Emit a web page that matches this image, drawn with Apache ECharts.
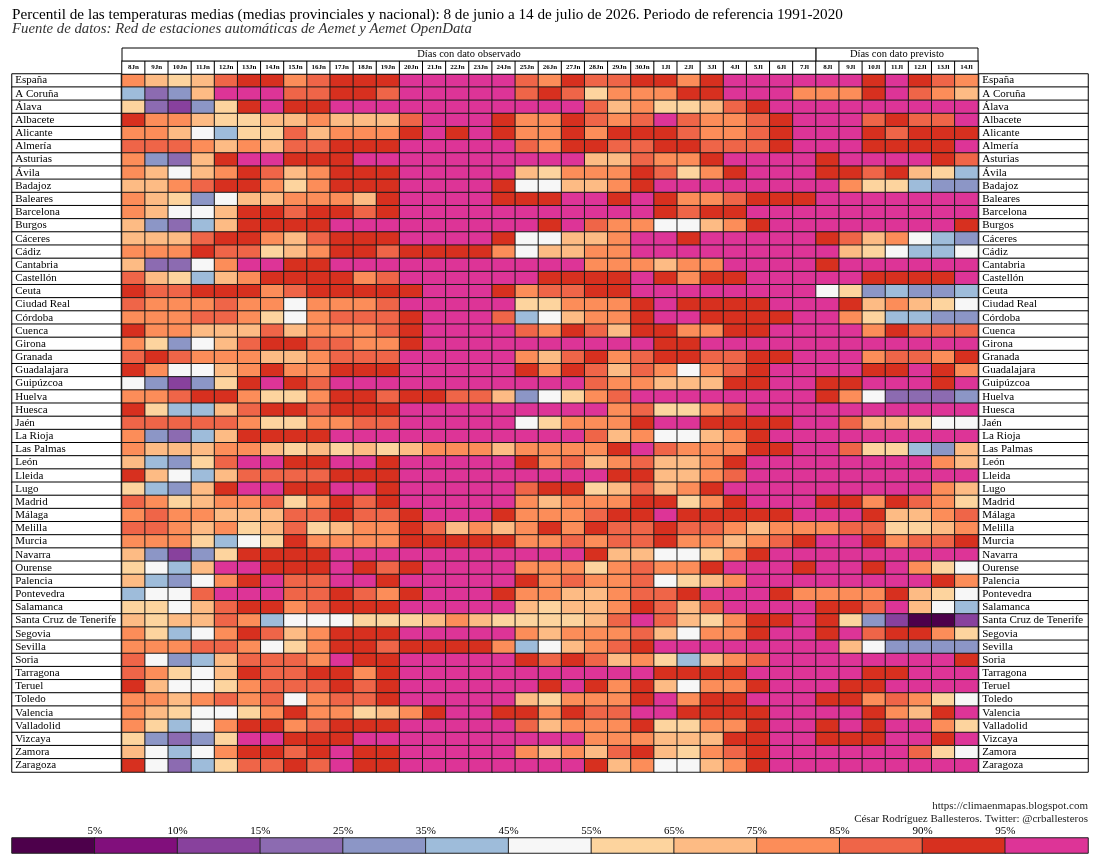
<!DOCTYPE html>
<html><head><meta charset="utf-8">
<script src="https://cdn.jsdelivr.net/npm/echarts/dist/echarts.min.js"></script>
<style>html,body{margin:0;padding:0;background:#fff}#c{width:1099px;height:860px}</style>
</head><body><div id="c"></div>
<script>
// ---- DATA ----
const dias = ['8Jn','9Jn','10Jn','11Jn','12Jn','13Jn','14Jn','15Jn','16Jn','17Jn','18Jn','19Jn','20Jn','21Jn','22Jn','23Jn','24Jn','25Jn','26Jn','27Jn','28Jn','29Jn','30Jn',
  '1Jl','2Jl','3Jl','4Jl','5Jl','6Jl','7Jl','8Jl','9Jl','10Jl','11Jl','12Jl','13Jl','14Jl'];
const gruposDias = [['Días con dato observado', 0, 29], ['Días con dato previsto', 30, 36]];
const provincias = ['España','A Coruña','Álava','Albacete','Alicante','Almería','Asturias','Ávila','Badajoz','Baleares','Barcelona','Burgos','Cáceres','Cádiz','Cantabria','Castellón','Ceuta','Ciudad Real','Córdoba','Cuenca','Girona','Granada','Guadalajara','Guipúzcoa','Huelva','Huesca','Jaén','La Rioja','Las Palmas','León','Lleida','Lugo','Madrid','Málaga','Melilla','Murcia','Navarra','Ourense','Palencia','Pontevedra','Salamanca','Santa Cruz de Tenerife','Segovia','Sevilla','Soria','Tarragona','Teruel','Toledo','Valencia','Valladolid','Vizcaya','Zamora','Zaragoza'];
// percentile class per province (rows) and day (columns): 0 = <5% ... 12 = >95%
const clases = [
 [9,8,7,8,10,11,11,9,10,11,11,11,12, 12,12,12,12,10,9,11,10,10,11,11,9,11, 12,12,12,12, 12,12,11,12,11,10,9],
 [5,3,4,8,12,12,12,10,10,11,11,10,12, 12,12,12,12,10,11,10,7,9,9,9,11,11, 12,12,12,9, 9,9,11,12,10,9,8],
 [7,3,2,4,7,11,12,11,11,12,12,12,12, 12,12,12,12,12,12,12,10,8,9,7,7,8, 10,11,12,12, 12,12,12,12,12,12,12],
 [11,9,9,8,7,7,8,8,9,8,8,8,10, 12,12,12,11,9,9,11,10,9,10,12,10,9, 9,10,11,12, 12,12,10,11,10,10,12],
 [9,9,8,6,5,7,7,10,8,9,9,9,11, 12,11,12,11,9,9,11,9,11,11,11,10,9, 9,10,11,12, 12,12,11,10,11,11,11],
 [10,10,10,9,8,9,8,10,10,11,11,11,12, 12,12,12,12,10,9,11,11,10,10,11,11,10, 10,10,11,12, 12,12,11,11,11,11,12],
 [9,4,3,8,11,12,12,11,11,11,12,12,12, 12,12,12,12,12,12,12,8,8,10,9,9,11, 12,12,12,12, 11,12,12,12,12,11,10],
 [9,8,6,8,9,11,10,8,9,11,11,11,12, 12,12,12,12,8,7,9,9,9,11,10,7,9, 11,12,12,12, 11,11,10,11,8,7,5],
 [8,8,9,10,11,11,9,7,9,11,11,11,12, 12,12,12,11,6,6,8,8,9,11,12,12,12, 12,12,12,12, 12,9,7,7,5,4,4],
 [9,8,7,4,6,8,8,9,9,9,8,11,12, 12,12,12,11,11,11,12,12,11,12,11,9,9, 10,11,11,11, 12,12,12,12,12,12,12],
 [9,8,6,6,8,11,11,10,11,11,10,11,12, 12,12,12,12,12,12,12,12,12,12,11,10,11, 11,12,12,12, 12,12,12,12,12,12,12],
 [8,4,3,5,8,11,11,11,11,12,12,12,12, 12,12,12,12,12,11,12,10,9,9,6,6,8, 9,11,12,12, 12,12,12,12,12,12,11],
 [8,8,8,10,11,11,9,8,10,11,11,11,12, 12,12,12,11,6,6,8,8,9,12,12,11,12, 12,12,12,12, 11,10,8,9,6,5,4],
 [9,9,9,11,10,10,7,8,9,11,11,10,11, 11,11,11,9,6,8,8,9,9,12,12,12,12, 12,12,12,12, 12,8,7,6,5,5,6],
 [8,3,3,6,9,12,12,11,11,12,12,12,12, 12,12,12,12,12,12,12,9,9,9,8,9,9, 12,12,12,12, 11,12,12,12,12,12,12],
 [10,8,7,5,8,9,11,11,11,11,9,10,12, 12,12,12,12,12,11,11,11,11,12,11,9,11, 11,12,12,12, 12,12,11,11,11,11,12],
 [11,10,10,11,11,11,9,10,11,11,11,11,11, 12,12,12,11,9,10,10,11,11,12,12,12,12, 12,12,12,12, 6,7,4,5,4,4,5],
 [10,9,9,9,10,9,9,6,9,9,9,10,12, 12,12,12,12,7,7,9,9,9,11,12,11,11, 11,11,12,12, 12,11,8,9,8,7,6],
 [9,9,9,10,10,9,7,6,9,10,10,10,11, 12,12,12,10,5,6,8,9,9,11,12,12,11, 11,11,11,12, 12,9,7,5,5,4,4],
 [11,9,9,8,8,8,10,8,9,9,9,10,11, 12,12,12,12,10,9,11,10,8,11,11,9,9, 11,11,12,12, 12,12,9,11,10,10,10],
 [9,7,4,6,8,10,11,11,10,10,9,9,11, 12,12,12,12,12,12,12,12,12,12,11,11,12, 12,12,12,12, 12,12,12,12,12,12,12],
 [10,11,10,9,9,9,8,8,9,10,10,10,12, 12,12,12,12,9,8,10,11,9,10,11,11,10, 10,11,11,12, 12,12,9,10,10,9,11],
 [11,9,6,6,8,9,11,9,9,11,11,11,12, 12,12,12,12,11,9,11,10,8,10,9,6,9, 10,11,12,12, 12,12,11,11,12,11,9],
 [6,4,2,4,7,11,12,11,10,12,12,12,12, 12,12,12,12,12,12,12,10,9,9,8,8,8, 11,11,12,12, 11,11,12,12,12,11,12],
 [9,9,10,11,11,9,7,7,9,11,11,10,11, 11,10,10,8,4,6,7,9,10,12,12,12,12, 12,12,12,12, 11,9,6,3,3,3,4],
 [11,7,5,5,8,10,11,11,10,11,11,11,12, 12,12,12,12,12,12,12,12,9,10,7,7,9, 10,12,12,12, 12,12,12,12,12,12,12],
 [10,10,10,10,10,9,7,7,9,9,10,10,12, 12,12,12,12,6,7,9,9,9,11,12,12,11, 11,11,11,12, 12,10,8,8,7,6,6],
 [9,4,3,5,8,11,11,11,11,12,12,12,12, 12,12,12,12,12,12,12,10,8,9,6,6,8, 9,11,12,12, 12,12,12,12,12,12,12],
 [9,8,8,8,9,9,8,7,8,7,8,7,8, 9,9,9,8,9,9,9,9,11,12,10,9,9, 9,11,11,12, 12,10,7,7,5,4,8],
 [8,5,4,7,10,12,12,11,11,12,12,11,12, 12,12,12,12,11,9,10,8,9,10,8,8,9, 11,12,12,12, 12,12,12,12,12,9,8],
 [11,8,6,5,8,10,10,10,10,11,11,11,12, 12,12,12,12,12,12,12,12,11,11,8,8,9, 10,12,12,12, 12,12,12,12,12,12,12],
 [7,5,4,8,11,12,12,11,11,12,12,11,12, 12,12,12,12,10,11,11,7,8,10,8,9,11, 12,12,12,12, 12,12,12,12,12,9,8],
 [10,9,7,8,9,9,10,7,9,11,10,11,12, 12,12,12,12,9,8,9,9,9,11,11,7,9, 11,12,12,12, 11,11,9,11,10,9,7],
 [9,10,9,9,8,8,8,10,10,11,10,10,11, 12,12,12,11,9,9,9,10,11,11,12,11,11, 11,11,11,12, 12,12,11,8,8,9,10],
 [10,10,9,8,9,7,8,10,7,8,9,9,11, 10,8,9,8,9,11,9,11,10,10,11,10,10, 9,8,9,9, 9,10,10,7,7,8,9],
 [9,9,9,7,5,6,7,11,9,9,9,9,11, 11,11,11,11,9,9,10,9,10,10,11,9,9, 8,9,10,11, 12,12,11,9,10,10,11],
 [8,4,2,4,7,11,11,11,11,12,12,12,12, 12,12,12,12,12,12,12,11,8,8,6,6,7, 9,11,12,12, 12,12,12,12,12,12,12],
 [7,6,5,8,12,12,11,11,11,12,11,10,11, 12,12,12,12,9,9,9,7,9,10,9,9,11, 12,12,12,11, 12,12,11,12,9,7,6],
 [8,5,4,6,9,11,12,10,10,12,12,11,12, 12,12,12,12,11,9,10,9,9,10,6,7,8, 9,12,12,12, 12,12,12,12,12,11,9],
 [5,6,6,10,12,12,12,10,10,11,10,9,11, 12,12,12,11,9,9,8,8,9,10,10,11,12, 12,12,11,9, 9,9,9,11,8,7,6],
 [7,7,6,8,10,11,11,9,10,11,11,11,12, 12,12,12,12,8,7,8,8,9,11,10,8,10, 12,12,12,12, 11,11,10,12,8,6,5],
 [8,7,8,8,10,9,5,6,6,6,7,7,7, 8,9,8,7,7,7,7,8,10,12,10,8,7, 9,11,11,12, 11,7,4,2,0,0,2],
 [9,7,5,6,9,11,10,8,9,11,11,11,12, 12,12,12,12,9,8,9,9,9,10,8,6,9, 9,11,12,12, 11,12,10,11,11,9,7],
 [9,9,9,10,10,9,6,7,9,11,11,10,11, 11,11,11,9,5,6,8,9,10,11,12,12,12, 12,12,12,12, 12,8,6,4,4,4,4],
 [10,6,4,5,8,10,10,10,9,12,11,11,12, 12,12,12,12,11,10,11,10,8,9,7,5,8, 9,10,12,12, 12,12,12,12,12,12,11],
 [10,9,7,6,8,11,10,10,11,11,9,11,12, 12,12,12,12,12,12,12,12,12,12,11,11,11, 11,12,12,12, 12,12,11,11,12,12,12],
 [11,8,6,6,7,9,10,10,10,11,10,11,12, 12,12,12,12,12,11,12,11,9,11,8,6,9, 9,11,12,12, 12,11,11,12,12,12,12],
 [9,9,8,9,10,9,10,6,9,10,10,11,12, 12,12,12,12,8,7,9,9,9,11,12,9,11, 11,12,12,12, 11,11,9,10,9,7,6],
 [9,8,7,6,6,7,9,11,9,9,7,8,9, 11,12,12,11,11,9,11,10,10,12,12,11,11, 11,11,12,12, 12,12,11,9,8,11,12],
 [9,7,5,6,9,11,11,9,10,11,11,11,12, 12,12,12,12,10,8,9,9,9,11,7,7,9, 9,11,12,12, 11,12,11,12,12,9,7],
 [7,4,3,4,7,12,12,11,11,11,12,12,12, 12,12,12,12,12,12,12,9,9,9,8,8,8, 11,11,12,12, 11,11,11,12,12,11,12],
 [8,6,5,6,9,11,11,10,11,12,11,11,12, 12,12,12,12,9,8,9,8,10,11,8,7,9, 10,11,12,12, 12,12,12,12,10,7,6],
 [11,6,3,5,7,10,10,11,10,12,11,11,12, 12,12,12,12,12,12,12,11,8,9,6,6,8, 9,11,12,12, 12,12,12,12,12,12,12]
];
const coloresClase = ['#4d004b','#810f7c','#88419d','#8c6bb1','#8c96c6','#9ebcda','#f7f7f7','#fdd49e','#fdbb84','#fc8d59','#ef6548','#d7301f','#dd3497'];
const etiquetasLeyenda = ['5%','10%','15%','25%','35%','45%','55%','65%','75%','85%','90%','95%'];
const titulo = 'Percentil de las temperaturas medias (medias provinciales y nacional): 8 de junio a 14 de julio de 2026. Periodo de referencia 1991-2020';
const subtitulo = 'Fuente de datos: Red de estaciones automáticas de Aemet y Aemet OpenData';
const creditos = ['https://climaenmapas.blogspot.com', 'César Rodríguez Ballesteros. Twitter: @crballesteros'];

// ---- CHART ----
const FONT = '"Liberation Serif", "Times New Roman", serif';
const chart = echarts.init(document.getElementById('c'), null, {renderer: 'canvas'});

const mainData = [];
clases.forEach((fila, r) => fila.forEach((c, d) => {
  mainData.push({value: [d, r, c], itemStyle: {color: coloresClase[c]}});
}));
const labelData = provincias.map((p, r) => ({value: [0, r, 1], itemStyle: {color: '#fff'}}));
const dayData = dias.map((d, i) => ({value: [i, 0, 1], itemStyle: {color: '#fff'}}));
const legendData = coloresClase.map((col, i) => ({value: [i, 0, i], itemStyle: {color: col}}));

const hiddenCat = (data, extra) => Object.assign({type: 'category', data: data, show: false}, extra || {});

const option = {
  animation: false,
  backgroundColor: '#fff',
  graphic: [
    {type: 'text', left: 12, top: 8, style: {text: titulo, font: '15.2px ' + FONT, fill: '#000'}},
    {type: 'text', left: 12, top: 22, style: {text: subtitulo, font: 'italic 14.8px ' + FONT, fill: '#333'}},
    {type: 'text', right: 11, top: 801, style: {text: creditos[0], font: '11px ' + FONT, fill: '#222'}},
    {type: 'text', right: 11, top: 814, style: {text: creditos[1], font: '11px ' + FONT, fill: '#222'}}
  ],
  grid: [
    {left: 122, top: 74, width: 856, height: 698},   // 0 main
    {left: 12, top: 74, width: 109, height: 698},    // 1 left labels
    {left: 979, top: 74, width: 109, height: 698},   // 2 right labels
    {left: 122, top: 61, width: 856, height: 13},    // 3 day header
    {left: 122, top: 48, width: 856, height: 13},    // 4 group header
    {left: 12, top: 838, width: 1076, height: 15}    // 5 legend
  ],
  xAxis: [
    hiddenCat(dias, {gridIndex: 0}),
    hiddenCat(['l'], {gridIndex: 1}),
    hiddenCat(['r'], {gridIndex: 2}),
    hiddenCat(dias, {gridIndex: 3}),
    hiddenCat(dias, {gridIndex: 4}),
    hiddenCat(coloresClase.map((c, i) => 'c' + i), {gridIndex: 5}),
    {type: 'value', gridIndex: 5, min: 0, max: 13, interval: 1, position: 'top',
     axisLine: {show: false}, axisTick: {show: false}, splitLine: {show: false},
     axisLabel: {show: true, margin: 1, fontFamily: FONT, fontSize: 11, color: '#000',
       formatter: v => (v >= 1 && v <= 12) ? etiquetasLeyenda[v - 1] : ''}}
  ],
  yAxis: [
    hiddenCat(provincias, {gridIndex: 0, inverse: true}),
    hiddenCat(provincias, {gridIndex: 1, inverse: true}),
    hiddenCat(provincias, {gridIndex: 2, inverse: true}),
    hiddenCat(['d'], {gridIndex: 3}),
    hiddenCat(['g'], {gridIndex: 4}),
    hiddenCat(['x'], {gridIndex: 5})
  ],
  series: [
    {type: 'heatmap', xAxisIndex: 0, yAxisIndex: 0, data: mainData, progressive: 0,
     itemStyle: {borderColor: '#1a1a1a', borderWidth: 1}, emphasis: {disabled: true}},
    {type: 'heatmap', xAxisIndex: 1, yAxisIndex: 1, data: labelData, progressive: 0,
     itemStyle: {borderColor: '#000', borderWidth: 1}, emphasis: {disabled: true},
     label: {show: true, position: 'insideLeft', distance: 4, fontFamily: FONT, fontSize: 11, color: '#000',
       formatter: p => provincias[p.value[1]]}},
    {type: 'heatmap', xAxisIndex: 2, yAxisIndex: 2, data: labelData, progressive: 0,
     itemStyle: {borderColor: '#000', borderWidth: 1}, emphasis: {disabled: true},
     label: {show: true, position: 'insideLeft', distance: 4, fontFamily: FONT, fontSize: 11, color: '#000',
       formatter: p => provincias[p.value[1]]}},
    {type: 'heatmap', xAxisIndex: 3, yAxisIndex: 3, data: dayData,
     itemStyle: {borderColor: '#000', borderWidth: 1}, emphasis: {disabled: true},
     label: {show: true, fontFamily: FONT, fontSize: 7, fontWeight: 'bold', color: '#000', formatter: p => dias[p.value[0]]}},
    {type: 'custom', xAxisIndex: 4, yAxisIndex: 4,
     data: gruposDias.map(g => [g[1], g[2], 0]),
     encode: {x: [0, 1], y: 2},
     renderItem: function (params, api) {
       const p0 = api.coord([api.value(0), 0]);
       const p1 = api.coord([api.value(1), 0]);
       const bw = api.size([1, 0])[0];
       const x0 = p0[0] - bw / 2, x1 = p1[0] + bw / 2;
       const cs = params.coordSys;
       return {type: 'group', children: [
         {type: 'rect', shape: {x: x0, y: cs.y, width: x1 - x0, height: cs.height},
          style: {fill: '#fff', stroke: '#000', lineWidth: 1}},
         {type: 'text', style: {text: gruposDias[params.dataIndex][0], x: (x0 + x1) / 2, y: cs.y + cs.height / 2,
          align: 'center', verticalAlign: 'middle', font: '10.5px ' + FONT, fill: '#000'}}
       ]};
     }},
    {type: 'heatmap', xAxisIndex: 5, yAxisIndex: 5, data: legendData,
     itemStyle: {borderColor: '#222', borderWidth: 1}, emphasis: {disabled: true}}
  ]
};
chart.setOption(option);
</script>
</body></html>
